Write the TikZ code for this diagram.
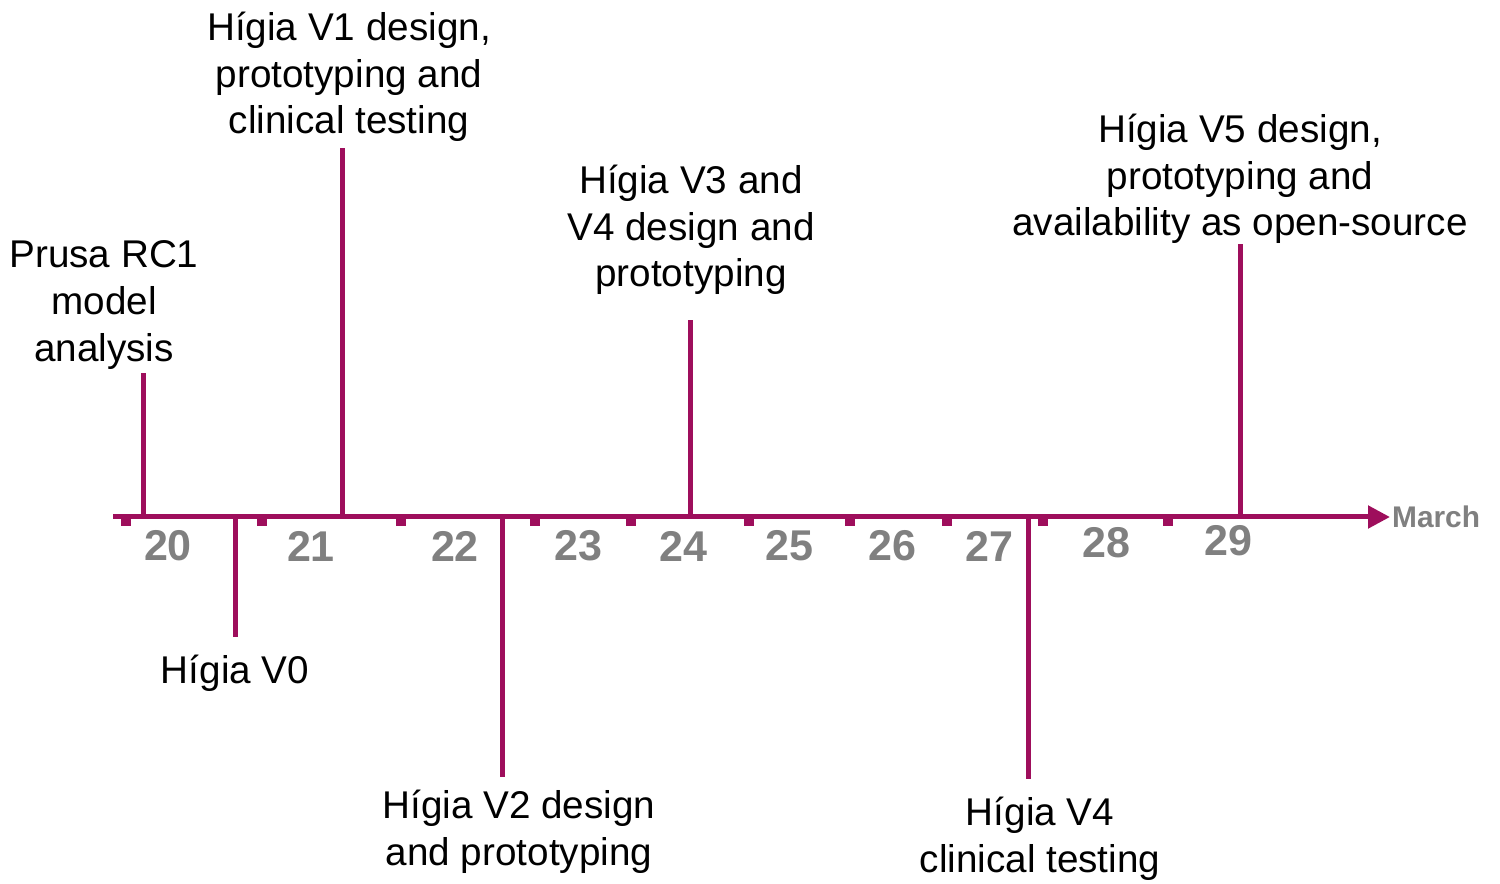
\documentclass[tikz,border=0pt]{standalone}
\usepackage{fontspec}
\setmainfont{Liberation Sans}
\usetikzlibrary{arrows.meta}
\definecolor{lineplum}{RGB}{158,14,92}
\definecolor{daygray}{RGB}{128,128,128}

\begin{document}
\begin{tikzpicture}[x=0.02cm, y=-0.02cm,
    stem/.style={lineplum, line width=0.1cm},
    event/.style={align=center, inner sep=0pt, font=\fontsize{22}{26.6}\selectfont},
    day/.style={daygray, inner sep=0pt, font=\fontsize{24.5}{28}\selectfont\bfseries}]
                \useasboundingbox (0,0) rectangle (1500,884);

                % time axis
                \coordinate (axstart) at (113,517);
                \node[daygray, anchor=west, inner sep=1pt, font=\fontsize{17}{20}\selectfont\bfseries] (march) at (1390,517) {March};
                \draw[stem, -{Triangle[length=0.44cm, width=0.44cm]}] (axstart) -- (march.west);
                \foreach \t in {126,262,401,535,631,749,850,947,1043,1168}
                    \fill[lineplum] (\t-5,519) rectangle (\t+5,526);

                % days
                \foreach \d/\x/\y in {20/168/546, 21/311/546, 22/455/546, 23/578/546, 24/683/546,
                                      25/789/546, 26/892/546, 27/989/546, 28/1106/543, 29/1228/541}
                    \node[day] (d\d) at (\x,\y) {\d};

                % events above the axis
                \node[event] (prusa) at (104,305) {Prusa RC1\\model\\analysis};
                \node[event] (v1) at (349,77) {Hígia V1 design,\\prototyping and\\clinical testing};
                \node[event] (v3) at (691,230) {Hígia V3 and\\V4 design and\\prototyping};
                \node[event] (v5) at (1240,179) {Hígia V5 design,\\prototyping and\\availability as open-source};

                % events below the axis
                \node[event] (v0) at (235,673) {Hígia V0};
                \node[event] (v2) at (519,832) {Hígia V2 design\\and prototyping};
                \node[event] (v4) at (1040,839) {Hígia V4\\clinical testing};

                % stems
                \coordinate (prusatop) at (143,373);
                \coordinate (v1top) at (342,148);
                \coordinate (v3top) at (690,320);
                \coordinate (v5top) at (1240,244);
                \coordinate (v0end) at (235,637);
                \coordinate (v2end) at (502,777);
                \coordinate (v4end) at (1028,779);
                \draw[stem] (143,517) -- (prusatop);
                \draw[stem] (342,517) -- (v1top);
                \draw[stem] (690,517) -- (v3top);
                \draw[stem] (1240,517) -- (v5top);
                \draw[stem] (235,517) -- (v0end);
                \draw[stem] (502,517) -- (v2end);
                \draw[stem] (1028,517) -- (v4end);
            \end{tikzpicture}
\end{document}
